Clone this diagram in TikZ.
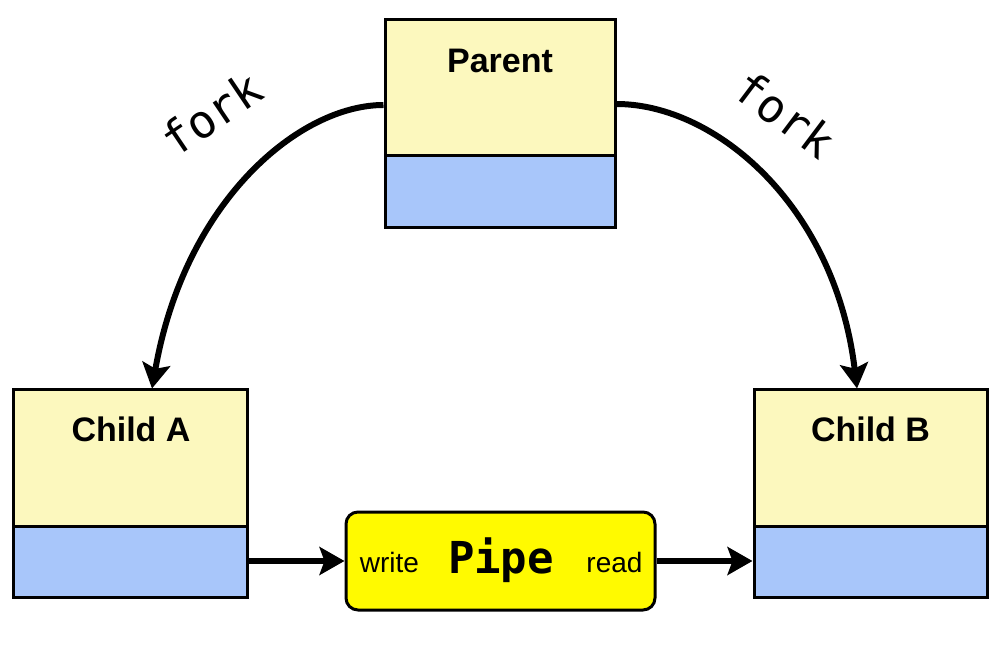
\documentclass[tikz,border=0pt]{standalone}
\usepackage{fontspec}
\setmainfont{Liberation Sans}
\setmonofont{DejaVu Sans Mono}
\newfontfamily\forkfont{DejaVu Sans Mono}
\usetikzlibrary{arrows.meta}
\definecolor{boxyellow}{HTML}{FCF8BE}
\definecolor{boxblue}{HTML}{A8C6FA}
\definecolor{pipeyellow}{HTML}{FFFA00}
\tikzset{
  proc/.style={draw, line width=3pt, fill=boxyellow, inner sep=0pt,
    path picture={
      \fill[boxblue] ([yshift=#1]path picture bounding box.south west) rectangle (path picture bounding box.south east);
      \draw[line width=3pt] ([yshift=#1]path picture bounding box.south west) -- ([yshift=#1]path picture bounding box.south east);
    }},
  title/.style={anchor=base, font=\fontsize{34}{40}\selectfont\bfseries},
  pipebox/.style={draw, line width=3pt, fill=pipeyellow, rounded corners=12pt,
    minimum width=309pt, minimum height=98pt, inner sep=0pt},
  small/.style={anchor=base, font=\fontsize{28}{32}\selectfont},
  forklabel/.style={anchor=base, inner sep=0pt, font=\forkfont\fontsize{46}{50}\selectfont},
  conn/.style={line width=6pt, -{Stealth[length=25pt,width=28pt,inset=5pt]}},
}
\begin{document}
\begin{tikzpicture}[x=1pt,y=-1pt]
\useasboundingbox[fill=white] (0,0) rectangle (1002,652);

\node[proc=72pt, minimum width=230pt, minimum height=208pt] (parent) at (500,124) {};
\node[proc=71pt, minimum width=234pt, minimum height=207pt] (childA) at (130,493.5) {};
\node[proc=71pt, minimum width=233pt, minimum height=207pt] (childB) at (870.5,493.5) {};

\node[title] (parentlbl) at (500,73) {Parent};
\node[title] (childAlbl) at (131,442) {Child A};
\node[title] (childBlbl) at (870.5,442) {Child B};

\node[pipebox] (pipe) at (500.5,561) {};
\node[small] (writelbl) at (389.5,572) {write};
\node[anchor=base, font=\ttfamily\bfseries\fontsize{44}{50}\selectfont] (pipelbl) at (501,573) {Pipe};
\node[small] (readlbl) at (614.5,572) {read};

\draw[conn] ([yshift=19pt]parent.west) .. controls (300,105) and (185,200) .. ([xshift=22pt]childA.north);
\draw[conn] ([yshift=20pt]parent.east) .. controls (715,104) and (835,205) .. ([xshift=-13.5pt]childB.north);

\draw[conn] (childA.east |- pipe.west) -- (pipe.west);
\draw[conn] (pipe.east) -- (childB.west |- pipe.east);

\node[forklabel, rotate=34] (forkA) at (221,128) {fork};
\node[forklabel, rotate=-37] (forkB) at (775,128) {fork};
\end{tikzpicture}
\end{document}
